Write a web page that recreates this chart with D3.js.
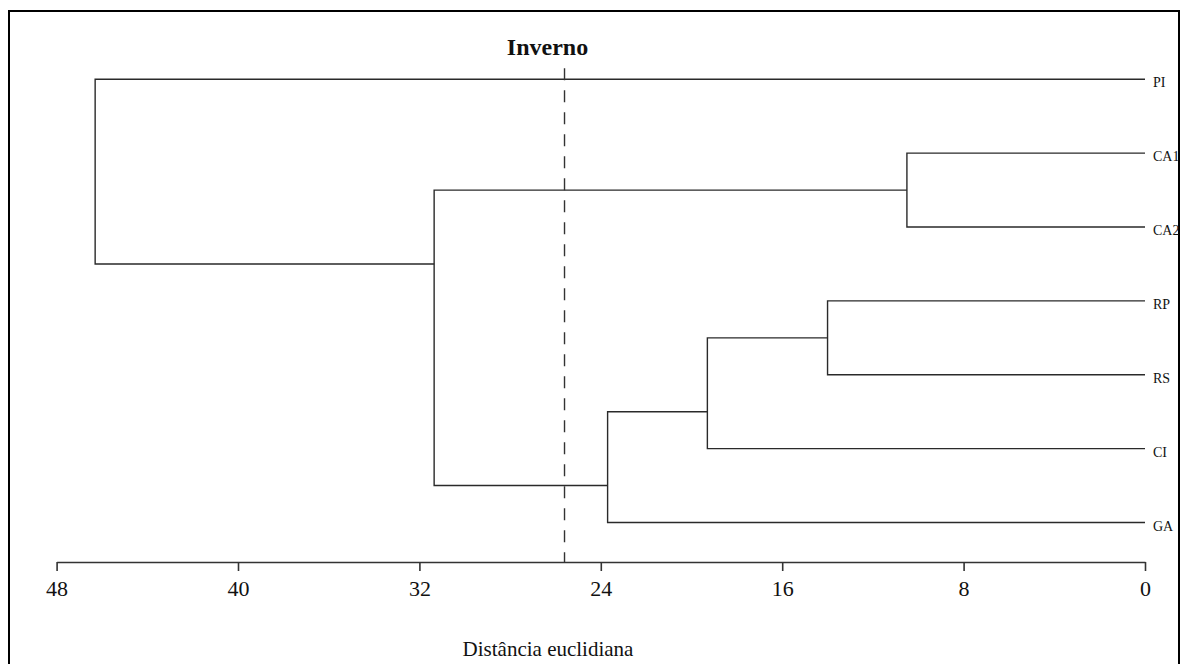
<!DOCTYPE html>
<html>
<head>
<meta charset="utf-8">
<script src="https://cdn.jsdelivr.net/npm/d3@7"></script>
<style>
  html, body { margin: 0; padding: 0; background: #fff; }
  svg { display: block; }
  .axis path, .axis line { stroke: #333; stroke-width: 1.6; }
  .axis text { font-family: "Liberation Serif", "Times New Roman", serif; font-size: 22px; fill: #111; }
</style>
</head>
<body>
<div id="chart"></div>
<script>
// Dendrogram "Inverno" — euclidean distance, leaves on the right.
const leaves = ["PI", "CA1", "CA2", "RP", "RS", "CI", "GA"];

// merge nodes: children, join height (distance) and stem position (in leaf units)
const mergeIds = ["CA", "RPRS", "RPRSCI", "RPRSCIGA", "CAREST", "ROOT"];
const mergeA = ["CA1", "RP", "RPRS", "RPRSCI", "CA", "PI"];
const mergeB = ["CA2", "RS", "CI", "GA", "RPRSCIGA", "CAREST"];
const mergeHeight = [10.5, 14.0, 19.3, 23.7, 31.35, 46.3];
const mergePos = [1.5, 3.5, 4.5, 5.5, 2.5, 1.25];

const cutoff = 25.6;
const tickValues = [48, 40, 32, 24, 16, 8, 0];

const W = 1182, H = 664;
const svg = d3.select("#chart").append("svg").attr("width", W).attr("height", H);

// outer frame
svg.append("rect")
  .attr("x", 9).attr("y", 11).attr("width", 1170).attr("height", 700)
  .attr("fill", "none").attr("stroke", "#000").attr("stroke-width", 2);

const x = d3.scaleLinear().domain([48, 0]).range([56.6, 1145]);
const y = d3.scaleLinear().domain([0, leaves.length - 1]).range([79.3, 522.5]);
const axisY = 562;

// node lookup: leaves at height 0
const nodes = {};
leaves.forEach((name, i) => { nodes[name] = { h: 0, pos: i }; });
mergeIds.forEach((id, i) => { nodes[id] = { h: mergeHeight[i], pos: mergePos[i] }; });

const g = svg.append("g")
  .attr("fill", "none").attr("stroke", "#2a2a2a").attr("stroke-width", 1.4);

mergeIds.forEach((id, i) => {
  const a = nodes[mergeA[i]], b = nodes[mergeB[i]], h = mergeHeight[i];
  const path = d3.path();
  path.moveTo(x(a.h), y(a.pos));
  path.lineTo(x(h), y(a.pos));
  path.lineTo(x(h), y(b.pos));
  path.lineTo(x(b.h), y(b.pos));
  g.append("path").attr("d", path.toString());
});

// cut-off line
svg.append("line")
  .attr("x1", x(cutoff)).attr("x2", x(cutoff))
  .attr("y1", y(-0.15)).attr("y2", axisY)
  .attr("stroke", "#333").attr("stroke-width", 1.4)
  .attr("stroke-dasharray", "12,10");

// leaf labels
svg.append("g").selectAll("text").data(leaves).join("text")
  .attr("x", x(0) + 8)
  .attr("y", (d, i) => y(i) + 8)
  .attr("font-family", "'Liberation Serif', 'Times New Roman', serif")
  .attr("font-size", 14)
  .attr("fill", "#111")
  .text(d => d);

// axis
svg.append("g").attr("class", "axis")
  .attr("transform", `translate(0,${axisY})`)
  .call(d3.axisBottom(x).tickValues(tickValues).tickSize(9).tickPadding(9).tickSizeOuter(0));

// titles
svg.append("text")
  .attr("x", x(cutoff) - 17).attr("y", 55)
  .attr("text-anchor", "middle")
  .attr("font-family", "'Liberation Serif', 'Times New Roman', serif")
  .attr("font-size", 24).attr("font-weight", "bold").attr("fill", "#111")
  .text("Inverno");

svg.append("text")
  .attr("x", 548).attr("y", 656)
  .attr("text-anchor", "middle")
  .attr("font-family", "'Liberation Serif', 'Times New Roman', serif")
  .attr("font-size", 21).attr("fill", "#111")
  .text("Distância euclidiana");
</script>
</body>
</html>
